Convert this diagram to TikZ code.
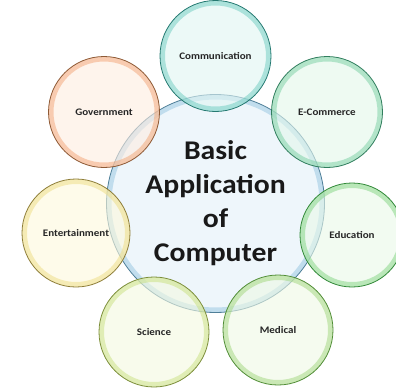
\documentclass[tikz,border=0pt]{standalone}
\usepackage{fontspec}
\setmainfont{Carlito}
\newfontfamily\widefont[FakeStretch=1.1]{Carlito}

\definecolor{hubline}{HTML}{4F7F98}
\definecolor{hubrim}{HTML}{94C4E0}
\definecolor{hubfill}{HTML}{E2F0F9}
\definecolor{tealline}{HTML}{267A72}
\definecolor{tealrim}{HTML}{6CCCC0}
\definecolor{tealfill}{HTML}{E0F5F2}
\definecolor{peachline}{HTML}{8E5A36}
\definecolor{peachrim}{HTML}{F2A474}
\definecolor{peachfill}{HTML}{FDECE0}
\definecolor{sealine}{HTML}{317E5E}
\definecolor{searim}{HTML}{78CFA2}
\definecolor{seafill}{HTML}{E2F6EA}
\definecolor{greenline}{HTML}{338A3A}
\definecolor{greenrim}{HTML}{80D480}
\definecolor{greenfill}{HTML}{E9F8E8}
\definecolor{limeline}{HTML}{528E38}
\definecolor{limerim}{HTML}{A0D67C}
\definecolor{limefill}{HTML}{EEF8E4}
\definecolor{oliveline}{HTML}{7C8E3A}
\definecolor{oliverim}{HTML}{C8E07E}
\definecolor{olivefill}{HTML}{F3F8E0}
\definecolor{sandline}{HTML}{8E7E3A}
\definecolor{sandrim}{HTML}{EEDC80}
\definecolor{sandfill}{HTML}{FDF8DC}

\tikzset{
  bubble/.style n args={4}{circle, draw=#1, line width=0.8pt, fill=#3,
    fill opacity=0.6, text opacity=1, text=black!85, inner sep=0pt,
    minimum size=#4,
    path picture={\draw[#2, line width=10pt, opacity=0.5]
      (path picture bounding box.center) circle (#4/2);}},
  areatext/.style={font=\widefont\bfseries\fontsize{10}{11}\selectfont},
  hubtext/.style={font=\widefont\bfseries\fontsize{27}{34}\selectfont, align=center, text=black!90}
}

\begin{document}
\begin{tikzpicture}[x = 1pt, y = -1pt]

\useasboundingbox (0,0) rectangle (396,389);

% ----------------------------------------------------

% centre
\node (hub) [bubble={hubline}{hubrim}{hubfill}{218pt}, hubtext] at (215.5,203.5)
  {Basic\\Application\\of\\Computer};

% areas round it
\node (communication) [bubble={tealline}{tealrim}{tealfill}{111pt}, areatext] at (215.5,56) {Communication};
\node (ecommerce) [bubble={sealine}{searim}{seafill}{111pt}, areatext] at (327,112) {E-Commerce};
\node (education) [bubble={greenline}{greenrim}{greenfill}{104pt}, areatext] at (352,235) {Education};
\node (medical) [bubble={limeline}{limerim}{limefill}{110pt}, areatext] at (278,330) {Medical};
\node (science) [bubble={oliveline}{oliverim}{olivefill}{110pt}, areatext] at (154,332) {Science};
\node (entertainment) [bubble={sandline}{sandrim}{sandfill}{108pt}, areatext] at (76,233) {Entertainment};
\node (government) [bubble={peachline}{peachrim}{peachfill}{111pt}, areatext] at (104,112) {Government};

\end{tikzpicture}
\end{document}
